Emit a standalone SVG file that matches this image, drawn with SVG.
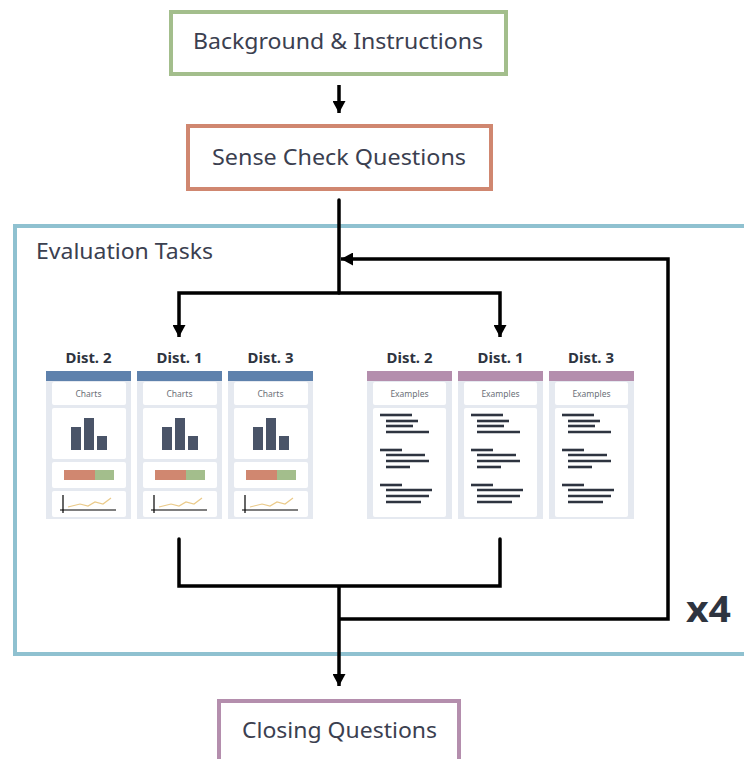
<svg xmlns="http://www.w3.org/2000/svg" xmlns:xlink="http://www.w3.org/1999/xlink" width="744" height="759" viewBox="0 0 744 759">
<style>
.lbl{font-family:"Noto Sans","Liberation Sans",sans-serif;font-size:21px;fill:#3b4050;}
.ttl{font-family:"Noto Sans","Liberation Sans",sans-serif;font-size:14px;font-weight:bold;fill:#2e3440;text-anchor:middle;}
.sm{font-family:"Noto Sans","Liberation Sans",sans-serif;font-size:8.5px;fill:#6b6f78;text-anchor:middle;}
.conn{fill:none;stroke:#000;stroke-width:3.5;stroke-linejoin:miter;}
.inner{fill:#fff;}
.bg{fill:#e5e9f0;}
.bar{fill:#4a5468;}
.tl{stroke:#2e3440;stroke-width:2.6;}
</style>
<defs>
<marker id="ah" markerUnits="userSpaceOnUse" markerWidth="13" markerHeight="13" refX="12" refY="6.5" orient="auto">
<path d="M0,0 L12,6.5 L0,13 z" fill="#000"/>
</marker>
<g id="chartCard">
<rect class="bg" x="0" y="0" width="85" height="148"/>
<rect x="0" y="0" width="85" height="10" fill="#5e81ac"/>
<rect class="inner" x="6" y="11" width="74" height="23" rx="2"/>
<text class="sm" x="42.5" y="26">Charts</text>
<rect class="inner" x="6" y="37" width="74" height="51" rx="2"/>
<rect class="bar" x="25" y="56" width="10" height="23"/>
<rect class="bar" x="38" y="47" width="10" height="32"/>
<rect class="bar" x="51" y="65" width="10" height="14"/>
<rect class="inner" x="6" y="91" width="74" height="26" rx="2"/>
<rect x="18" y="99" width="31" height="10" fill="#d08770"/>
<rect x="49" y="99" width="19" height="10" fill="#a3be8c"/>
<rect class="inner" x="6" y="120" width="74" height="26" rx="2"/>
<polyline points="22,136 34,133 42,135 49,131 57,133 65,127" fill="none" stroke="#ebcb8b" stroke-width="1.2"/>
<line x1="17" y1="124" x2="17" y2="142" stroke="#000" stroke-width="1.2"/>
<line x1="14" y1="139" x2="70" y2="139" stroke="#000" stroke-width="1.2"/>
</g>
<g id="exCard">
<rect class="bg" x="0" y="0" width="85" height="148"/>
<rect x="0" y="0" width="85" height="10" fill="#b48ead"/>
<rect class="inner" x="6" y="11" width="73" height="23" rx="2"/>
<text class="sm" x="42.5" y="26">Examples</text>
<rect class="inner" x="6" y="37" width="73" height="109" rx="2"/>
<g class="tl">
<line x1="13" y1="44" x2="45" y2="44"/>
<line x1="19" y1="50" x2="51" y2="50"/>
<line x1="19" y1="55" x2="46" y2="55"/>
<line x1="19" y1="61" x2="62" y2="61"/>
<line x1="13" y1="79" x2="35" y2="79"/>
<line x1="19" y1="84" x2="58" y2="84"/>
<line x1="19" y1="90" x2="62" y2="90"/>
<line x1="19" y1="96" x2="43" y2="96"/>
<line x1="13" y1="114" x2="35" y2="114"/>
<line x1="19" y1="119" x2="65" y2="119"/>
<line x1="19" y1="125" x2="62" y2="125"/>
<line x1="19" y1="131" x2="54" y2="131"/>
</g>
</g>
</defs>
<rect width="744" height="759" fill="#fff"/>

<g id="evaluation-tasks">
<rect x="15" y="226" width="800" height="428" fill="none" stroke="#8fc1d0" stroke-width="4"/>
<text class="lbl" x="36" y="259" textLength="177" lengthAdjust="spacingAndGlyphs">Evaluation Tasks</text>
<text x="686" y="622" textLength="45" lengthAdjust="spacingAndGlyphs" style="font-family:'Noto Sans','Liberation Sans',sans-serif;font-size:36px;font-weight:bold;fill:#2e3440">x4</text>
</g>

<g id="background-instructions">
<rect x="171" y="12" width="335" height="62" fill="#fff" stroke="#a3be8c" stroke-width="4"/>
<text class="lbl" x="193" y="49" textLength="290" lengthAdjust="spacingAndGlyphs">Background &amp; Instructions</text>
</g>

<g id="sense-check">
<rect x="188" y="126" width="303" height="63" fill="#fff" stroke="#d08770" stroke-width="4"/>
<text class="lbl" x="212" y="165" textLength="254" lengthAdjust="spacingAndGlyphs">Sense Check Questions</text>
</g>

<g id="closing-questions">
<rect x="219" y="701" width="240" height="80" fill="#fff" stroke="#b48ead" stroke-width="4"/>
<text class="lbl" x="242" y="738" textLength="195" lengthAdjust="spacingAndGlyphs">Closing Questions</text>
</g>

<g id="charts-dist2">
<text class="ttl" x="88.5" y="363" textLength="46" lengthAdjust="spacingAndGlyphs">Dist. 2</text>
<use xlink:href="#chartCard" x="46" y="371"/>
</g>
<g id="charts-dist1">
<text class="ttl" x="179.5" y="363" textLength="46" lengthAdjust="spacingAndGlyphs">Dist. 1</text>
<use xlink:href="#chartCard" x="137" y="371"/>
</g>
<g id="charts-dist3">
<text class="ttl" x="270.5" y="363" textLength="46" lengthAdjust="spacingAndGlyphs">Dist. 3</text>
<use xlink:href="#chartCard" x="228" y="371"/>
</g>

<g id="examples-dist2">
<text class="ttl" x="409.5" y="363" textLength="46" lengthAdjust="spacingAndGlyphs">Dist. 2</text>
<use xlink:href="#exCard" x="367" y="371"/>
</g>
<g id="examples-dist1">
<text class="ttl" x="500.5" y="363" textLength="46" lengthAdjust="spacingAndGlyphs">Dist. 1</text>
<use xlink:href="#exCard" x="458" y="371"/>
</g>
<g id="examples-dist3">
<text class="ttl" x="591" y="363" textLength="46" lengthAdjust="spacingAndGlyphs">Dist. 3</text>
<use xlink:href="#exCard" x="549" y="371"/>
</g>

<g id="connectors">
<line class="conn" x1="339" y1="85" x2="339" y2="113" marker-end="url(#ah)"/>
<line class="conn" x1="339" y1="200" x2="339" y2="293" stroke-linecap="round"/>
<polyline class="conn" points="339,293 179,293 179,337" marker-end="url(#ah)"/>
<polyline class="conn" points="339,293 500,293 500,337" marker-end="url(#ah)"/>
<polyline class="conn" points="179,539 179,586 500,586 500,539" stroke-linecap="round"/>
<line class="conn" x1="339" y1="586" x2="339" y2="686" marker-end="url(#ah)"/>
<polyline class="conn" points="339,619 668,619 668,259 341,259" marker-end="url(#ah)"/>
</g>
</svg>
